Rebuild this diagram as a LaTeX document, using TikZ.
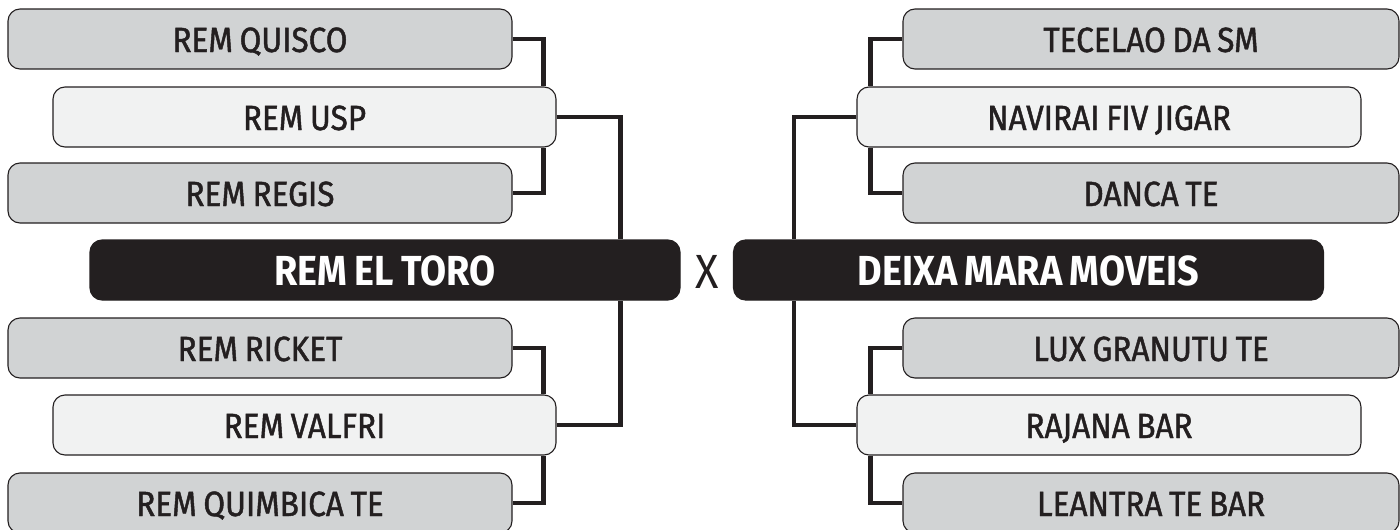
\documentclass[tikz,border=0pt]{standalone}
\usepackage{fontspec}
\setmainfont{Fira Sans}
\newfontfamily\medfont{Fira Sans}[FakeBold=1.3, FakeStretch=0.9, WordSpace=0.8]
\newfontfamily\boldfont{Fira Sans}[UprightFont=* Bold, FakeStretch=0.9, WordSpace=0.8]
\newfontfamily\xfont{Fira Sans}[FakeStretch=0.9]
\usetikzlibrary{calc}
\definecolor{ink}{HTML}{231F20}
\definecolor{grayfill}{HTML}{D1D3D4}
\definecolor{lightfill}{HTML}{F1F2F2}
\tikzset{
  box/.style={draw=ink, line width=1.1pt, rounded corners=12pt, minimum height=60pt,
    inner sep=0pt, text=ink, text height=26pt, text depth=0pt,
    font=\medfont\fontsize{35}{40}\selectfont},
  graybox/.style={box, fill=grayfill},
  lightbox/.style={box, fill=lightfill},
  finalbox/.style={box, fill=ink, draw=ink, text=white, minimum width=590pt,
    text height=30pt, font=\boldfont\fontsize{42}{46}\selectfont},
  conn/.style={draw=ink, line width=4.5pt, line cap=butt, line join=miter}
}
\begin{document}
\begin{tikzpicture}[x=1pt,y=-1pt]
\useasboundingbox (0,0) rectangle (1400,530);
% left nodes
\node[graybox, minimum width=504pt] (q) at (260,39) {REM QUISCO};
\node[lightbox, minimum width=503pt] (usp) at (304.5,117) {REM USP};
\node[graybox, minimum width=504pt] (regis) at (260,193) {REM REGIS};
\node[finalbox] (toro) at (385,270) {REM EL TORO};
\node[graybox, minimum width=504pt] (ricket) at (260,348) {REM RICKET};
\node[lightbox, minimum width=503pt] (valfri) at (304.5,425) {REM VALFRI};
\node[graybox, minimum width=504pt] (quim) at (260,503) {REM QUIMBICA TE};
% center
\node[text=ink, font=\xfont\fontsize{48}{52}\selectfont, inner sep=0pt] (x) at (707,272) {X};
% right nodes
\node[finalbox] (deixa) at (1028.5,270) {DEIXA MARA MOVEIS};
\node[graybox, minimum width=496pt] (tec) at (1151,39) {TECELAO DA SM};
\node[lightbox, minimum width=504pt] (nav) at (1109,117) {NAVIRAI FIV JIGAR};
\node[graybox, minimum width=496pt] (danca) at (1151,193) {DANCA TE};
\node[graybox, minimum width=496pt] (lux) at (1151,348) {LUX GRANUTU TE};
\node[lightbox, minimum width=504pt] (raj) at (1109,425) {RAJANA BAR};
\node[graybox, minimum width=496pt] (lean) at (1151,503) {LEANTRA TE BAR};
% connectors
\draw[conn] (q.east) -| ($(usp.north east)+(-13,0)$);
\draw[conn] ($(usp.south east)+(-13,0)$) |- (regis.east);
\draw[conn] (usp.east) -| ($(toro.north east)+(-60,0)$);
\draw[conn] (ricket.east) -| ($(valfri.north east)+(-13,0)$);
\draw[conn] ($(valfri.south east)+(-13,0)$) |- (quim.east);
\draw[conn] (valfri.east) -| ($(toro.south east)+(-60,0)$);
\draw[conn] (tec.west) -| ($(nav.north west)+(14,0)$);
\draw[conn] ($(nav.south west)+(14,0)$) |- (danca.west);
\draw[conn] (nav.west) -| ($(deixa.north west)+(61,0)$);
\draw[conn] (lux.west) -| ($(raj.north west)+(14,0)$);
\draw[conn] ($(raj.south west)+(14,0)$) |- (lean.west);
\draw[conn] (raj.west) -| ($(deixa.south west)+(61,0)$);
\end{tikzpicture}
\end{document}
